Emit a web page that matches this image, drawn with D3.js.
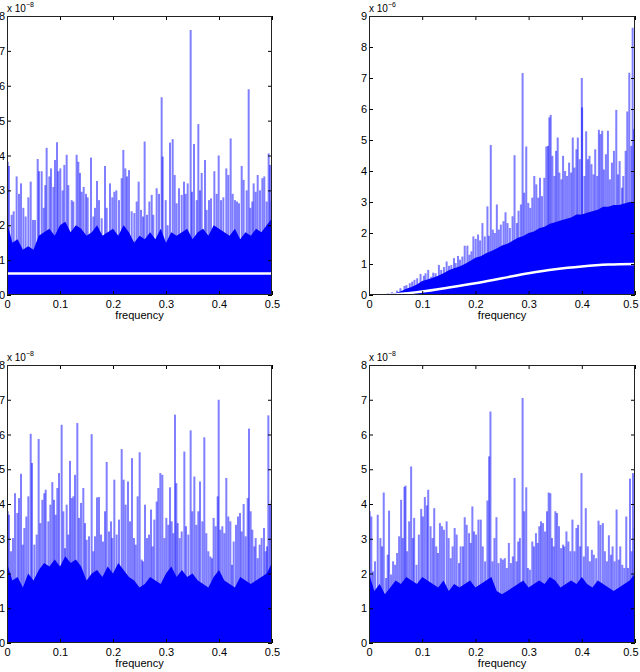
<!DOCTYPE html>
<html>
<head>
<meta charset="utf-8">
<script src="https://cdn.jsdelivr.net/npm/d3@7"></script>
<style>
  body { margin: 0; background: #fff; }
  svg { display: block; }
  text { font-family: "Liberation Sans", Arial, sans-serif; }
</style>
</head>
<body>
<svg id="chart" width="640" height="672"></svg>
<script>
// frequency grid (0 .. 0.5, step 0.01) for the solid lower band
var bandFreq = d3.range(51).map(function (i) { return i / 100; });
var xTicks = [0, 0.1, 0.2, 0.3, 0.4, 0.5];

// --- top left (x 10^-8)
var freqTL = [.0013,.0038,.0088,.0126,.0182,.0226,.0264,.0308,.0352,.0403,.0447,.0491,.0528,.0579,.0604,.0654,.0692,.0723,.0748,.0799,.0830,.0874,.0906,.0943,.0969,.1006,.1050,.1082,.1126,.1157,.1220,.1252,.1314,.1346,.1377,.1409,.1447,.1491,.1522,.1585,.1629,.1660,.1698,.1736,.1786,.1849,.1881,.1943,.1987,.2025,.2063,.2113,.2164,.2195,.2233,.2264,.2302,.2352,.2403,.2447,.2484,.2528,.2566,.2597,.2642,.2686,.2730,.2761,.2824,.2868,.2918,.2937,.2994,.3031,.3075,.3126,.3164,.3201,.3245,.3296,.3340,.3371,.3409,.3465,.3491,.3528,.3579,.3610,.3642,.3673,.3736,.3767,.3811,.3849,.3912,.3956,.3994,.4038,.4082,.4138,.4176,.4220,.4258,.4302,.4340,.4377,.4428,.4465,.4522,.4560,.4591,.4629,.4654,.4692,.4730,.4774,.4818,.4855,.4899,.4937,.4962,.4994];
var peakTL = [3.82,3.7,2.3,2.4,3.4,2.9,3.2,2.5,2.25,2.8,3.25,2.15,2.15,3.9,3.55,3.55,2.5,3.15,4.22,3.4,3.63,3.1,3.87,4.38,3.55,3.63,3.0,3.73,4.02,3.15,2.72,2.68,4.02,3.82,3.5,2.96,3.1,2.9,2.8,3.94,2.25,2.5,3.27,2.72,2.2,3.7,2.5,3.2,2.8,2.96,3.0,2.72,3.35,4.16,3.63,3.4,3.58,2.4,2.35,2.68,3.25,2.44,2.25,4.4,2.3,2.68,2.87,2.3,3.06,2.9,5.67,3.97,2.72,2.0,4.37,4.47,3.44,2.63,3.06,2.87,3.25,2.9,3.2,7.6,2.96,4.33,2.72,4.9,3.0,3.5,3.87,2.44,2.72,2.77,3.55,2.9,4.0,2.72,2.8,3.63,3.44,4.49,2.9,2.72,2.68,2.63,3.7,3.3,3.0,5.9,2.5,2.68,3.2,2.96,3.44,3.0,3.35,3.4,2.68,4.06,3.73,2.68];
var bandTL = [2.1,1.5,1.6,1.3,1.4,1.3,1.7,1.8,1.9,1.7,2.0,2.1,1.8,2.0,1.9,1.7,1.8,2.0,1.7,1.8,1.9,1.7,2.0,1.8,1.5,1.7,1.6,1.8,1.6,1.9,1.5,1.8,1.7,1.8,1.9,1.6,1.8,1.9,1.7,2.0,1.9,1.8,1.7,1.9,1.6,1.8,1.7,1.9,1.8,2.0,2.2];
var whiteFreqTL = [0, 0.5];
var whiteTL = [0.62, 0.62];

// --- top right (x 10^-6)
var freqTR = [.0352,.0434,.0528,.0591,.0667,.0704,.0767,.0811,.0855,.0906,.0969,.1031,.1063,.1113,.1170,.1208,.1252,.1314,.1358,.1409,.1459,.1503,.1547,.1597,.1629,.1673,.1711,.1755,.1799,.1849,.1887,.1925,.1962,.2006,.2050,.2088,.2132,.2176,.2226,.2252,.2289,.2327,.2365,.2403,.2440,.2478,.2528,.2566,.2604,.2648,.2698,.2736,.2780,.2811,.2855,.2887,.2918,.2956,.2994,.3031,.3069,.3107,.3145,.3182,.3214,.3252,.3296,.3333,.3365,.3390,.3415,.3447,.3484,.3516,.3547,.3579,.3616,.3648,.3686,.3723,.3761,.3799,.3830,.3862,.3899,.3925,.3962,.4000,.4006,.4050,.4082,.4113,.4145,.4182,.4220,.4252,.4289,.4321,.4352,.4384,.4415,.4453,.4491,.4528,.4566,.4604,.4648,.4679,.4711,.4755,.4780,.4824,.4855,.4893,.4931,.4956,.4981,.5000];
var peakTR = [0.05,0.09,0.14,0.22,0.29,0.32,0.38,0.43,0.49,0.54,0.68,0.62,0.70,0.81,0.59,0.72,0.70,0.97,0.81,0.90,1.08,0.94,0.97,1.19,1.03,1.26,1.14,1.24,1.59,1.59,1.30,1.41,1.89,1.81,1.95,1.76,2.32,1.89,2.86,1.91,4.84,2.11,2.0,2.92,2.11,2.27,2.38,2.67,2.32,2.16,2.54,4.51,2.32,2.72,2.92,7.16,3.3,4.79,2.97,2.81,3.14,3.84,3.57,3.14,3.78,3.19,3.78,4.79,4.81,5.73,5.81,4.49,3.84,4.65,5.08,3.95,3.73,4.49,4.0,3.84,4.27,3.95,5.08,4.11,4.70,5.08,4.38,7.0,6.05,3.84,5.28,4.38,4.49,4.22,3.89,4.70,3.84,5.33,5.19,5.30,4.05,4.54,5.30,3.73,4.27,4.65,5.97,3.89,4.32,3.46,3.84,4.65,5.92,7.17,4.81,8.62,5.35,4.65];
var bandTR = [0.02,0.02,0.02,0.03,0.04,0.06,0.12,0.2,0.26,0.34,0.45,0.5,0.56,0.62,0.7,0.8,0.86,0.92,1.0,1.1,1.2,1.25,1.35,1.42,1.5,1.6,1.65,1.75,1.85,1.9,2.0,2.05,2.15,2.2,2.3,2.35,2.4,2.45,2.5,2.6,2.6,2.65,2.7,2.75,2.85,2.85,2.9,2.9,2.95,3.0,3.0];
var whiteFreqTR = [0, 0.03, 0.05, 0.1, 0.15, 0.2, 0.25, 0.3, 0.35, 0.4, 0.45, 0.5];
var whiteTR = [0, 0, 0.02, 0.11, 0.24, 0.38, 0.54, 0.70, 0.83, 0.92, 0.98, 1.0];

// --- bottom left (x 10^-8)
var freqBL = [.0013,.0038,.0075,.0113,.0151,.0195,.0226,.0264,.0296,.0327,.0365,.0403,.0447,.0472,.0516,.0560,.0597,.0629,.0667,.0704,.0730,.0780,.0818,.0855,.0887,.0918,.0950,.0981,.1031,.1063,.1094,.1126,.1157,.1189,.1220,.1252,.1283,.1327,.1358,.1396,.1440,.1472,.1503,.1547,.1597,.1629,.1660,.1698,.1736,.1774,.1811,.1849,.1881,.1925,.1962,.1987,.2025,.2069,.2113,.2164,.2201,.2239,.2283,.2321,.2358,.2396,.2428,.2465,.2503,.2541,.2566,.2604,.2642,.2679,.2717,.2748,.2780,.2824,.2855,.2893,.2931,.2969,.3006,.3044,.3075,.3107,.3138,.3170,.3195,.3220,.3258,.3296,.3346,.3377,.3421,.3465,.3497,.3535,.3572,.3610,.3642,.3686,.3723,.3761,.3799,.3836,.3868,.3899,.3937,.3975,.3994,.4025,.4063,.4101,.4138,.4176,.4214,.4245,.4277,.4321,.4358,.4396,.4428,.4465,.4503,.4541,.4566,.4597,.4629,.4667,.4692,.4730,.4767,.4805,.4849,.4881,.4906,.4931,.4962,.4994];
var peakBL = [3.79,3.69,2.64,3.02,4.31,3.74,4.17,4.87,2.83,3.31,3.64,4.22,6.02,5.18,2.83,3.12,5.87,3.45,4.12,4.31,4.41,3.5,3.98,4.63,4.12,3.69,4.46,4.89,6.28,3.79,2.73,3.98,3.12,5.24,4.17,4.22,4.84,6.33,3.6,4.03,4.46,3.45,2.97,3.07,6.01,2.64,3.07,4.19,4.2,3.12,2.92,3.79,5.21,3.21,3.5,3.02,4.7,3.12,3.55,5.58,4.7,3.98,4.65,3.5,5.32,3.02,2.83,4.22,5.49,2.4,2.35,3.98,3.02,3.12,3.84,2.78,3.55,4.07,4.46,4.89,4.84,3.02,3.6,3.4,4.48,3.5,3.16,6.57,4.6,3.45,3.02,3.21,5.51,3.36,3.12,6.12,3.79,4.79,3.4,3.79,4.65,3.5,5.92,3.16,2.64,2.49,2.44,3.6,3.36,4.22,7.0,3.26,3.36,3.16,4.75,3.64,3.5,2.25,2.92,3.4,3.64,3.74,3.21,4.0,3.07,4.17,6.17,3.79,3.26,2.78,3.02,2.44,2.83,3.02,3.31,2.64,2.78,6.55,3.98,4.12];
var bandBL = [2.3,1.8,1.9,1.6,2.0,1.8,2.1,2.3,2.2,2.4,2.2,2.5,2.3,2.4,2.2,1.8,2.0,2.1,1.9,2.2,2.0,2.3,2.1,1.9,1.8,1.6,1.7,1.9,1.8,1.7,2.0,2.2,1.9,2.1,1.9,2.0,1.8,1.7,1.6,1.9,2.1,1.8,1.7,1.6,1.9,1.8,1.7,1.8,1.9,2.0,2.3];

// --- bottom right (x 10^-8)
var freqBR = [.0013,.0044,.0075,.0113,.0164,.0214,.0245,.0277,.0321,.0352,.0377,.0415,.0453,.0491,.0528,.0566,.0604,.0635,.0667,.0686,.0717,.0755,.0792,.0824,.0849,.0893,.0937,.0981,.1013,.1050,.1088,.1113,.1157,.1195,.1226,.1264,.1296,.1333,.1371,.1409,.1459,.1497,.1535,.1572,.1610,.1648,.1692,.1723,.1767,.1799,.1836,.1881,.1912,.1943,.1975,.2013,.2057,.2101,.2138,.2182,.2226,.2258,.2283,.2321,.2358,.2396,.2434,.2478,.2516,.2553,.2591,.2629,.2667,.2704,.2736,.2774,.2805,.2836,.2887,.2918,.2956,.2987,.3025,.3069,.3101,.3138,.3170,.3201,.3233,.3270,.3308,.3346,.3377,.3409,.3440,.3472,.3503,.3535,.3572,.3610,.3648,.3673,.3711,.3748,.3786,.3824,.3862,.3899,.3931,.3969,.3994,.4038,.4075,.4113,.4151,.4189,.4226,.4270,.4314,.4352,.4396,.4434,.4472,.4509,.4547,.4579,.4616,.4654,.4692,.4723,.4761,.4799,.4836,.4868,.4906,.4937,.4962,.4994];
var peakBR = [3.79,3.64,2.06,2.35,3.69,3.02,2.78,4.33,1.87,2.54,3.81,1.97,2.35,2.25,2.59,3.07,4.12,3.02,4.49,4.53,2.64,3.5,5.08,3.02,3.6,2.25,3.12,3.86,3.64,4.2,3.96,4.41,3.36,3.02,3.88,2.78,2.59,3.45,3.36,3.26,3.5,3.02,2.44,2.78,3.31,3.12,2.3,2.78,2.78,3.62,3.4,3.16,2.88,3.93,3.21,3.12,3.55,3.55,2.78,2.35,4.1,5.37,6.66,2.35,3.02,3.62,2.3,2.44,2.4,2.44,2.16,2.88,2.3,2.49,4.75,2.35,2.92,3.02,7.05,3.79,4.48,2.16,2.11,2.92,2.78,3.16,2.88,3.36,3.5,3.45,3.21,3.79,4.33,4.31,3.02,2.78,3.79,3.74,3.36,2.73,2.83,2.78,3.21,2.92,2.64,3.55,2.64,3.31,3.4,2.78,4.89,2.49,3.88,2.78,2.35,2.68,2.54,2.44,3.52,3.4,3.45,2.64,2.35,3.1,2.54,2.78,2.35,3.84,2.4,2.78,2.25,2.16,3.64,2.16,4.73,2.64,4.89,3.31];
var bandBR = [2.0,1.5,1.7,1.4,1.6,1.8,1.7,1.9,1.8,1.7,1.9,1.8,1.7,1.6,1.8,1.5,1.7,1.6,1.7,1.8,1.6,1.7,1.8,1.9,1.5,1.4,1.5,1.6,1.7,1.8,1.6,1.7,1.8,1.7,1.9,1.8,1.6,1.7,1.8,1.7,1.9,1.7,1.6,1.8,1.7,1.6,1.5,1.6,1.7,1.8,2.0];

var panels = [
  { id: "tl", left: 7, right: 272, top: 16, bottom: 295, yMax: 8, exp: "\u22128",
    freq: freqTL, peak: peakTL, band: bandTL, wf: whiteFreqTL, wv: whiteTL },
  { id: "tr", left: 369, right: 635, top: 16, bottom: 295, yMax: 9, exp: "\u22126",
    freq: freqTR, peak: peakTR, band: bandTR, wf: whiteFreqTR, wv: whiteTR },
  { id: "bl", left: 7, right: 272, top: 365, bottom: 643, yMax: 8, exp: "\u22128",
    freq: freqBL, peak: peakBL, band: bandBL },
  { id: "br", left: 369, right: 635, top: 365, bottom: 643, yMax: 8, exp: "\u22128",
    freq: freqBR, peak: peakBR, band: bandBR }
];

var svg = d3.select("#chart");

panels.forEach(function (p) {
  var x = d3.scaleLinear().domain([0, 0.5]).range([p.left, p.right]);
  var y = d3.scaleLinear().domain([0, p.yMax]).range([p.bottom, p.top]);
  var g = svg.append("g");

  g.append("defs").append("clipPath").attr("id", "clip-" + p.id)
    .append("rect")
    .attr("x", p.left).attr("y", p.top)
    .attr("width", p.right - p.left).attr("height", p.bottom - p.top);

  var plot = g.append("g").attr("clip-path", "url(#clip-" + p.id + ")");

  var area = d3.area()
    .x(function (d, i) { return x(bandFreq[i]); })
    .y0(y(0))
    .y1(function (d) { return y(d); });
  plot.append("path").datum(p.band)
    .attr("d", area)
    .attr("fill", "#0000ff");

  plot.selectAll("line.spike")
    .data(p.peak)
    .enter().append("line")
    .attr("class", "spike")
    .attr("x1", function (d, i) { return x(p.freq[i]); })
    .attr("x2", function (d, i) { return x(p.freq[i]); })
    .attr("y1", y(0))
    .attr("y2", function (d) { return y(d); })
    .attr("stroke", "#0000ff")
    .attr("stroke-opacity", 0.5)
    .attr("stroke-width", 2);

  if (p.wv) {
    var wline = d3.line()
      .x(function (d, i) { return x(p.wf[i]); })
      .y(function (d) { return y(d); })
      .curve(d3.curveMonotoneX);
    plot.append("path").datum(p.wv)
      .attr("d", wline)
      .attr("fill", "none")
      .attr("stroke", "#fff")
      .attr("stroke-width", 2.5);
  }

  // axes, MATLAB style box with inward ticks
  var fmt = function (d) { return d === 0 ? "0" : String(d); };
  var yTicks = d3.range(0, p.yMax + 1);

  var xb = g.append("g").attr("transform", "translate(0," + p.bottom + ")")
    .call(d3.axisBottom(x).tickValues(xTicks).tickSize(-4).tickPadding(5).tickFormat(fmt));
  g.append("g").attr("transform", "translate(0," + p.top + ")")
    .call(d3.axisTop(x).tickValues(xTicks).tickSize(-4).tickFormat(""));
  g.append("g").attr("transform", "translate(" + p.left + ",0)")
    .call(d3.axisLeft(y).tickValues(yTicks).tickSize(-4).tickPadding(2).tickFormat(fmt));
  g.append("g").attr("transform", "translate(" + p.right + ",0)")
    .call(d3.axisRight(y).tickValues(yTicks).tickSize(-4).tickFormat(""));

  g.selectAll(".domain").remove();
  g.selectAll(".tick text").attr("font-size", 11).attr("fill", "#000")
    .style("font-family", "'Liberation Sans', Arial, sans-serif");
  g.selectAll(".tick line").attr("stroke", "#000");

  // keep the last x label inside the page on the right-hand panels
  if (p.right > 600) {
    xb.selectAll(".tick text").filter(function (d) { return d === 0.5; })
      .attr("text-anchor", "end").attr("dx", 3);
  }

  g.append("rect")
    .attr("x", p.left + 0.5).attr("y", p.top + 0.5)
    .attr("width", p.right - p.left - 1).attr("height", p.bottom - p.top - 1)
    .attr("fill", "none").attr("stroke", "#222").attr("stroke-width", 1);

  g.append("text")
    .attr("x", (p.left + p.right) / 2)
    .attr("y", p.bottom + 24)
    .attr("text-anchor", "middle")
    .attr("font-size", 11)
    .text("frequency");

  var ex = g.append("text")
    .attr("x", p.left)
    .attr("y", p.top - 4)
    .attr("font-size", 10)
    .text("x 10");
  ex.append("tspan").attr("dy", -5).attr("font-size", 7).text(p.exp);
});
</script>
</body>
</html>
